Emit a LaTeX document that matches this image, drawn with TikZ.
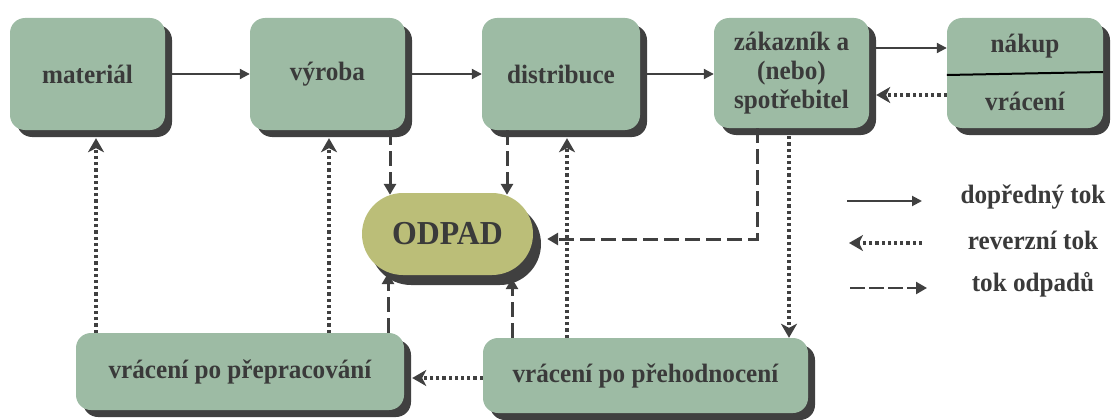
\documentclass[tikz,border=0pt]{standalone}
\usepackage{fontspec}
\setmainfont{Liberation Serif}[FakeStretch=0.95]
\usetikzlibrary{arrows.meta,shadows}
\definecolor{boxgreen}{RGB}{157,187,164}
\definecolor{olivefill}{RGB}{187,190,120}
\definecolor{shade}{RGB}{64,64,64}
\definecolor{ink}{RGB}{58,58,58}
\begin{document}
\begin{tikzpicture}[x=1pt,y=-1pt,
  box/.style={fill=boxgreen, rounded corners=15pt, align=center, text=ink,
    inner sep=0pt, font=\fontsize{26.5}{29}\selectfont\bfseries,
    general shadow={shadow xshift=7pt, shadow yshift=-7pt, fill=shade}},
  fwd/.style={draw=shade, line width=2pt, -{Triangle[length=10pt,width=10pt]}},
  rev/.style={draw=shade, line width=3.5pt, dash pattern=on 3.2pt off 3pt,
    -{Stealth[length=14pt,width=16pt,inset=4pt]}},
  waste/.style={draw=shade, line width=3pt, dash pattern=on 15pt off 6pt,
    -{Triangle[length=11pt,width=12pt]}},
  legtext/.style={text=ink, font=\fontsize{26.5}{29}\selectfont\bfseries}]
\useasboundingbox (0,0) rectangle (1111,420);

% top row
\node[box, minimum width=155pt, minimum height=112pt] (mat) at (87.5,74) {materiál};
\node[box, minimum width=155pt, minimum height=112pt] (vyr) at (327.5,74) {výroba};
\node[box, minimum width=158pt, minimum height=112pt] (dis) at (561,74) {distribuce};
\node[box, minimum width=155pt, minimum height=110pt] (zak) at (791.5,73) {zákazník a\\(nebo)\\spotřebitel};
\node[box, minimum width=156pt, minimum height=110pt] (nak) at (1025,73) {};
\node[legtext] (nakt) at (1025,46) {nákup};
\node[legtext] (vrat) at (1025,101) {vrácení};
\draw[shade, line width=2pt] ([yshift=-2pt]nak.west) -- ([yshift=1pt]nak.east);

% waste
\node[fill=olivefill, rounded corners=41pt, minimum width=171pt, minimum height=82pt,
  inner sep=0pt, text=ink, font=\fontsize{33.5}{36}\selectfont\bfseries,
  general shadow={shadow xshift=8pt, shadow yshift=-10pt, fill=shade}] (odp) at (447.5,234) {ODPAD};

% bottom row
\node[box, minimum width=328pt, minimum height=77pt] (prep) at (240,371.5) {vrácení po přepracování};
\node[box, minimum width=325pt, minimum height=75pt] (preh) at (645.5,375.5) {vrácení po přehodnocení};

% forward flow
\draw[fwd, shorten <=7pt] (mat.east) -- (vyr.west);
\draw[fwd, shorten <=7pt] (vyr.east) -- (dis.west);
\draw[fwd, shorten <=7pt] (dis.east) -- (dis.east -| zak.west);
\draw[fwd, shorten <=7pt] ([yshift=25pt]zak.east) -- ([yshift=25pt]nak.west);

% reverse flow
\draw[rev, shorten >=7pt] ([yshift=-22pt]nak.west) -- ([yshift=-22pt]zak.east);
\draw[rev, shorten >=8pt] ([xshift=-144pt]prep.north) -- ([xshift=8.5pt]mat.south);
\draw[rev, shorten >=8pt] ([xshift=89pt]prep.north) -- ([xshift=1.5pt]vyr.south);
\draw[rev, shorten >=8pt] ([xshift=-78.5pt]preh.north) -- ([xshift=6pt]dis.south);
\draw[rev, shorten <=8pt] ([xshift=-2.5pt]zak.south) -- ([xshift=143.5pt]preh.north);
\draw[rev, shorten >=8pt] ([yshift=-2.5pt]preh.west) -- ([yshift=-6.5pt]prep.east);

% waste flow
\draw[waste] ([xshift=62.5pt]vyr.south) -- ([xshift=-57.5pt,yshift=-2pt]odp.north);
\draw[waste] ([xshift=-54pt]dis.south) -- ([xshift=59.5pt,yshift=-2pt]odp.north);
\draw[waste] ([xshift=-34.5pt]zak.south) |- ([xshift=14pt,yshift=-5pt]odp.east);
\draw[waste] ([xshift=148pt]prep.north) -- ([xshift=-59.5pt,yshift=2pt]odp.south);
\draw[waste] ([xshift=-133.5pt]preh.north) -- ([xshift=64.5pt,yshift=-3pt]odp.south);

% legend
\coordinate (l1a) at (847,201); \coordinate (l1b) at (922,201);
\coordinate (l2a) at (922,243); \coordinate (l2b) at (849,243);
\coordinate (l3a) at (850,288); \coordinate (l3b) at (927,288);
\draw[fwd] (l1a) -- (l1b);
\draw[rev, line width=3.2pt] (l2a) -- (l2b);
\draw[waste, line width=2.4pt, dash pattern=on 15pt off 4pt] (l3a) -- (l3b);
\node[legtext] (t1) at (1033,197) {dopředný tok};
\node[legtext] (t2) at (1033,240) {reverzní tok};
\node[legtext] (t3) at (1033,285) {tok odpadů};
\end{tikzpicture}
\end{document}
